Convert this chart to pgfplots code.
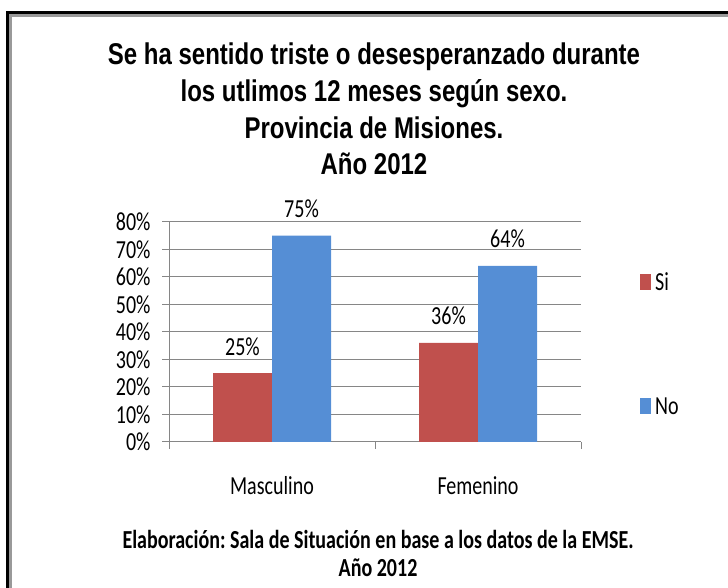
\documentclass[border=0pt]{standalone}
\usepackage{fontspec}
\usepackage{pgfplots}
\pgfplotsset{compat=1.18}
\setmainfont{Carlito}[FakeStretch=0.77]
\newfontfamily\titlefont{Liberation Sans}[FakeStretch=0.8]
\definecolor{siRed}{HTML}{C0504D}
\definecolor{noBlue}{HTML}{558ED5}
\definecolor{gridgray}{HTML}{868686}
\frenchspacing
\begin{document}
\begin{tikzpicture}[x=1pt,y=1pt]
\useasboundingbox (0,0) rectangle (728,588);
\draw[black, line width=3pt] (7.5,575.5) rectangle (760,-30);
\draw[black!40, line width=2.5pt] (10.5,572.5) rectangle (757,-27);
\begin{scope}[every node/.style={anchor=base, inner sep=0pt, font=\titlefont\bfseries\fontsize{30}{36}\selectfont}]
\node at (374,523) {Se ha sentido triste o desesperanzado durante};
\node at (374,486.3) {los utlimos 12 meses según sexo.};
\node at (374,449.7) {Provincia de Misiones.};
\node at (374,413) {Año 2012};
\end{scope}
\begin{scope}[every node/.style={anchor=base, inner sep=0pt, font=\bfseries\fontsize{26}{30}\selectfont}]
\node at (378,39) {Elaboración: Sala de Situación en base a los datos de la EMSE.};
\node at (378,11) {Año 2012};
\end{scope}
\begin{axis}[
  at={(169pt,146pt)}, anchor=south west,
  width=412pt, height=220pt, scale only axis,
  xmin=0.5, xmax=2.5, ymin=0, ymax=80,
  ybar=0pt, bar width=59pt,
  axis x line*=bottom, axis y line*=left,
  axis line style={gridgray, line width=1pt, -},
  ymajorgrids, grid style={gridgray, line width=1pt},
  tick align=outside, major tick length=7pt,
  tick style={gridgray, line width=1pt},
  ytick={0,10,...,80},
  yticklabels={0\%,10\%,20\%,30\%,40\%,50\%,60\%,70\%,80\%},
  yticklabel style={anchor=east, xshift=-8pt, inner sep=3.33pt},
  xtick={1,2}, xticklabels={Masculino,Femenino},
  xtick style={draw=none},
  xticklabel style={anchor=base, yshift=-46pt},
  extra x ticks={0.5,1.5,2.5}, extra x tick labels={},
  extra x tick style={xtick style={draw=gridgray}, grid=none},
  tick label style={font=\fontsize{26}{30}\selectfont},
  /pgf/number format/assume math mode=true,
  nodes near coords={\pgfmathprintnumber{\pgfplotspointmeta}\%},
  every node near coord/.append style={font=\fontsize{26}{30}\selectfont, anchor=base, yshift=18pt, inner sep=0pt, text=black},
  legend image code/.code={\fill[#1] (0pt,-7pt) rectangle (11pt,9pt);},
  legend style={at={(axis description cs:1.136,0.788)}, anchor=north west, draw=none, fill=none,
    font=\fontsize{26}{30}\selectfont, row sep=102pt,
    /tikz/every odd column/.append style={column sep=2pt}},
  legend cell align=left,
]
\addplot[fill=siRed, draw=none] coordinates {(1,25) (2,36)};
\addplot[fill=noBlue, draw=none] coordinates {(1,75) (2,64)};
\legend{Si,No}
\end{axis}
\end{tikzpicture}
\end{document}
